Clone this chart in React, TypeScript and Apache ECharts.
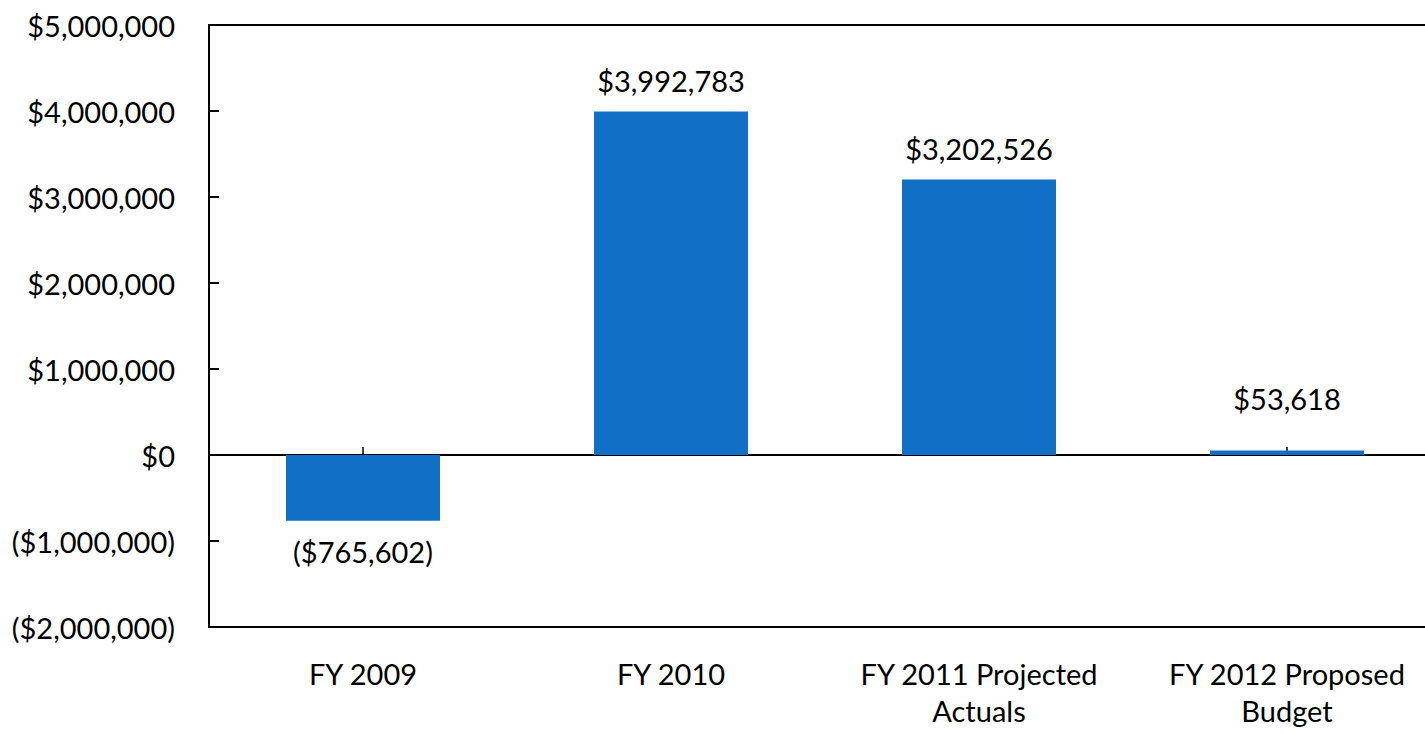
import React, { useEffect, useRef } from "react";
import * as echarts from "echarts";

const categories = ["FY 2009", "FY 2010", "FY 2011 Projected\nActuals", "FY 2012 Proposed\nBudget"];
const values = [-765602, 3992783, 3202526, 53618];
const labelDistances = [16, 17, 17, 37];
const yMin = -2000000;
const yMax = 5000000;
const yInterval = 1000000;

const FONT = "Lato";
const FONT_SIZE = 29;
const BAR_COLOR = "#1170C6";

function money(v: number): string {
  const s = "$" + Math.abs(v).toLocaleString("en-US");
  return v < 0 ? "(" + s + ")" : s;
}

export default function App() {
  const ref = useRef<HTMLDivElement>(null);
  useEffect(() => {
    if (!ref.current) return;
    const chart = echarts.init(ref.current, undefined, { renderer: "svg" });
    chart.setOption({
      animation: false,
      backgroundColor: "#fff",
      grid: {
        left: 209,
        top: 25,
        width: 1232,
        height: 602,
        show: true,
        borderColor: "#000",
        borderWidth: 2,
        backgroundColor: "transparent",
        containLabel: false,
      },
      xAxis: [
        {
          type: "category",
          data: categories,
          position: "bottom",
          axisLine: { show: false, onZero: false },
          axisTick: { show: false },
          axisLabel: {
            fontFamily: FONT,
            fontSize: FONT_SIZE,
            lineHeight: 37,
            color: "#000",
            margin: 28,
            interval: 0,
          },
          splitLine: { show: false },
        },
        {
          type: "category",
          data: categories,
          position: "bottom",
          axisLine: { show: true, onZero: true, lineStyle: { color: "#000", width: 2 } },
          axisTick: { show: true, inside: true, length: 8, alignWithLabel: true, lineStyle: { color: "#000", width: 1.5 } },
          axisLabel: { show: false },
          splitLine: { show: false },
        },
      ],
      yAxis: {
        type: "value",
        min: yMin,
        max: yMax,
        interval: yInterval,
        axisLine: { show: true, lineStyle: { color: "#000", width: 2 } },
        axisTick: { show: true, inside: true, length: 10, lineStyle: { color: "#000", width: 2 } },
        splitLine: { show: false },
        axisLabel: {
          fontFamily: FONT,
          fontSize: FONT_SIZE,
          color: "#000",
          margin: 34,
          padding: [0, 0, 4, 0],
          formatter: (v: number) => money(v),
        },
      },
      series: [
        {
          type: "bar",
          xAxisIndex: 0,
          barWidth: "50%",
          itemStyle: { color: BAR_COLOR },
          data: values.map((v, i) => ({
            value: v,
            label: {
              show: true,
              position: v < 0 ? "bottom" : "top",
              distance: labelDistances[i],
              fontFamily: FONT,
              fontSize: FONT_SIZE,
              color: "#000",
              formatter: () => money(v),
            },
          })),
        },
      ],
    });
    return () => chart.dispose();
  }, []);
  return (
    <div style={{ position: "absolute", left: 0, top: 0, width: 1425, height: 734, overflow: "hidden" }}>
      <div ref={ref} style={{ width: 1460, height: 734 }} />
    </div>
  );
}
